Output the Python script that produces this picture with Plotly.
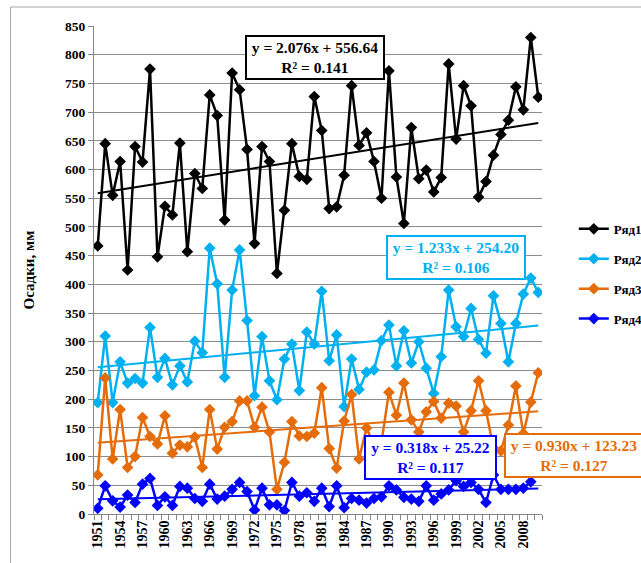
import plotly.graph_objects as go

years = list(range(1951, 2011))

series_names = ["Ряд1", "Ряд2", "Ряд3", "Ряд4"]

r1 = [467, 645, 555, 614, 425, 640, 613, 775, 448, 536,
      521, 646, 457, 593, 567, 730, 694, 512, 768, 739,
      635, 471, 640, 614, 419, 529, 645, 588, 583, 727,
      668, 532, 535, 590, 746, 642, 664, 614, 550, 772,
      587, 506, 673, 584, 599, 561, 586, 784, 653, 746,
      711, 552, 579, 625, 661, 686, 744, 704, 830, 726]

r2 = [194, 310, 194, 265, 228, 236, 228, 325, 238, 271,
      225, 258, 230, 301, 281, 463, 401, 238, 390, 460,
      337, 206, 309, 232, 199, 270, 296, 215, 317, 296,
      388, 267, 312, 187, 270, 217, 247, 251, 302, 329,
      258, 319, 263, 300, 254, 210, 274, 390, 326, 309,
      358, 304, 280, 380, 332, 265, 332, 383, 411, 386]

r3 = [68, 237, 96, 182, 81, 100, 168, 135, 122, 171,
      106, 120, 117, 134, 81, 182, 113, 151, 161, 197,
      197, 151, 186, 143, 43, 90, 161, 136, 135, 141,
      220, 114, 80, 162, 208, 96, 150, 120, 125, 212,
      172, 228, 164, 143, 178, 196, 167, 193, 188, 143,
      180, 232, 180, 115, 110, 155, 223, 140, 195, 246]

r4 = [10, 49, 23, 12, 33, 20, 52, 62, 15, 30,
      15, 48, 45, 27, 22, 52, 26, 31, 43, 55,
      39, 7, 45, 16, 16, 6, 55, 31, 37, 22,
      45, 13, 49, 11, 27, 24, 19, 27, 30, 49,
      42, 29, 26, 22, 49, 24, 35, 42, 58, 48,
      55, 43, 20, 68, 43, 43, 43, 45, 56, None]

trend_slopes = [2.076, 1.233, 0.930, 0.318]
trend_intercepts = [556.64, 254.20, 123.23, 25.22]
trend_r2 = [0.141, 0.106, 0.127, 0.117]

colors = ["#000000", "#00B0F0", "#E46C0A", "#0000FF"]
FONT = "Liberation Serif, Times New Roman, serif"

fig = go.Figure()
all_series = [r1, r2, r3, r4]
for i, (name, vals) in enumerate(zip(series_names, all_series)):
    fig.add_trace(go.Scatter(
        x=years, y=vals, name=name, mode="lines+markers",
        line=dict(color=colors[i], width=2.5),
        marker=dict(symbol="diamond", size=9, color=colors[i]),
        legendgroup=name, connectgaps=False,
    ))

idx = list(range(1, len(years) + 1))
for i in range(4):
    ty = [trend_slopes[i] * k + trend_intercepts[i] for k in idx]
    fig.add_trace(go.Scatter(
        x=years, y=ty, mode="lines", showlegend=False, hoverinfo="skip",
        line=dict(color=colors[i], width=2),
    ))

# annotation boxes (paper coords)
box_pos = [(0.4939, 0.936, 134), (0.8078, 0.5246, 134), (1.0714, 0.1209, 134), (0.7503, 0.1148, 127)]
for i in range(4):
    bx, by, bw = box_pos[i]
    txt = f"y = {trend_slopes[i]:.3f}x + {trend_intercepts[i]:.2f}<br>R² = {trend_r2[i]:.3f}"
    fig.add_annotation(
        x=bx, y=by, xref="paper", yref="paper", xanchor="center", yanchor="middle",
        text=txt, showarrow=False, width=bw, height=39, align="center",
        font=dict(family=FONT, size=15.5, color=colors[i], weight="bold"),
        bgcolor="white", bordercolor=colors[i], borderwidth=2, borderpad=1,
    )

fig.add_shape(type="rect", xref="paper", yref="paper",
              x0=-0.1862, x1=1.6, y0=-0.5, y1=1.0389,
              line=dict(color="#A6A6A6", width=1), layer="below")

tickyears = years[::3]
fig.update_layout(
    width=641, height=563,
    margin=dict(l=93.5, r=99, t=26, b=49, autoexpand=False),
    paper_bgcolor="white", plot_bgcolor="white",
    showlegend=True,
    legend=dict(x=1.071, y=0.615, xanchor="left", yanchor="top",
                font=dict(family=FONT, size=13, color="black", weight="bold"),
                tracegroupgap=10, bgcolor="rgba(0,0,0,0)"),
    xaxis=dict(
        range=[1950.5, 2010.5], tickmode="array", tickvals=tickyears,
        ticktext=[str(y) for y in tickyears], tickangle=-90,
        tickfont=dict(family=FONT, size=14, color="black", weight="bold"),
        showgrid=False, showline=True, linecolor="#868686", linewidth=1,
        ticks="", zeroline=False,
        minor=dict(tickmode="array", tickvals=[1950.5 + k for k in range(61)],
                   ticks="outside", ticklen=5, tickcolor="#868686", showgrid=False),
    ),
    yaxis=dict(
        range=[0, 850], tickmode="linear", tick0=0, dtick=50,
        showgrid=True, gridcolor="#8C8C8C", gridwidth=1,
        showline=True, linecolor="#868686", linewidth=1,
        ticks="outside", ticklen=5, tickcolor="#868686", zeroline=False,
        tickfont=dict(family=FONT, size=13.5, color="black", weight="bold"),
        title=dict(text="Осадки, мм", standoff=26,
                   font=dict(family=FONT, size=15, color="black", weight="bold")),
    ),
)

fig.write_html("out.html")
